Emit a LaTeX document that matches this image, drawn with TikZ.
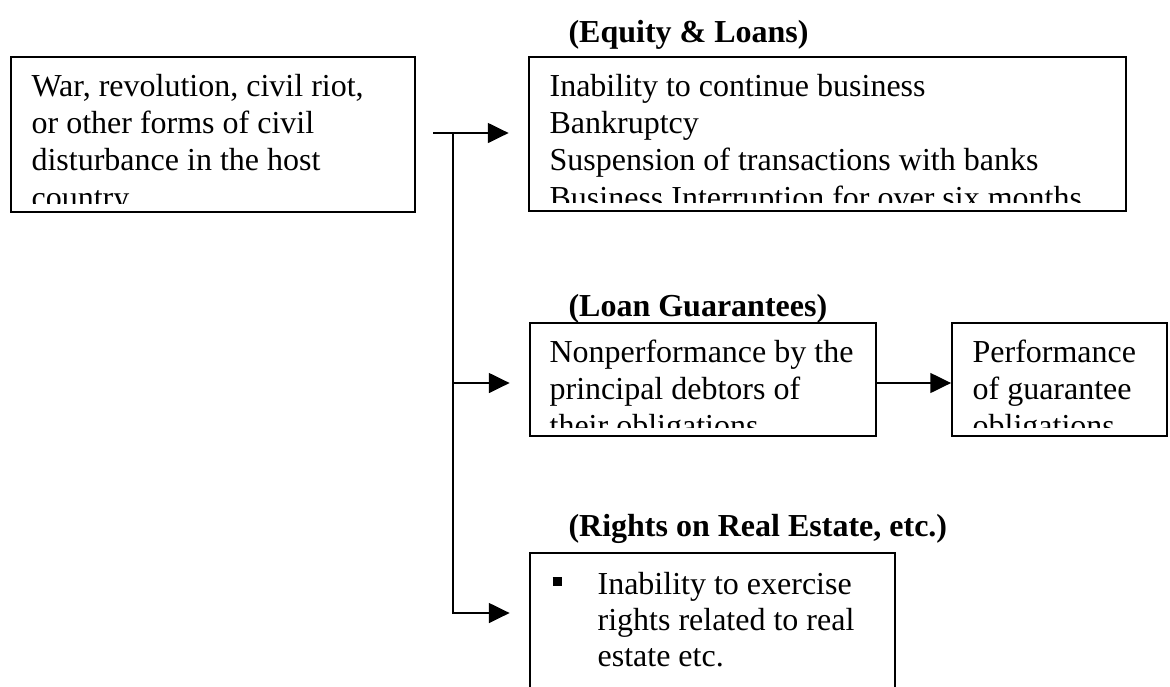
\documentclass[tikz,border=0pt]{standalone}
\usepackage{fontspec}
\setmainfont{Liberation Serif}
\usetikzlibrary{arrows.meta, fit}

\begin{document}
\begin{tikzpicture}[x=0.375pt, y=-0.375pt,
    box/.style={draw, line width=0.7pt, inner sep=0pt},
    txt/.style={anchor=north west, inner sep=0pt, align=left, font=\fontsize{12}{14}\selectfont},
    title/.style={anchor=base west, inner sep=0pt, font=\fontsize{12}{14}\selectfont\bfseries},
    conn/.style={line width=0.6pt, -{Triangle[length=7.8pt, width=7.5pt]}, shorten >=7.3pt}]

    \clip (0,0) rectangle (1170,686);

    % boxes
    \node[box, fit={(11,57) (415,212)}] (war) {};
    \node[box, fit={(529,57) (1126,211)}] (equity) {};
    \node[box, fit={(530,323) (876,436)}] (loan) {};
    \node[box, fit={(952,323) (1167,436)}] (perf) {};
    \node[box, fit={(530,553) (895,720)}] (rights) {};

    % headings
    \node[title] (eqtitle) at (568,42) {(Equity \& Loans)};
    \node[title] (loantitle) at (568,316) {(Loan Guarantees)};
    \node[title] (rightstitle) at (568,536) {(Rights on Real Estate, etc.)};

    % texts, cut off at the bottom of their boxes
    \begin{scope}
        \clip (war.north west) rectangle ([shift={(0,-9)}]war.south east);
        \node[txt] (wartext) at ([shift={(21,13)}]war.north west)
            {\rule{0pt}{10pt}War, revolution, civil riot,\\or other forms of civil\\disturbance in the host\\country};
    \end{scope}
    \begin{scope}
        \clip (equity.north west) rectangle ([shift={(0,-9)}]equity.south east);
        \node[txt] (eqtext) at ([shift={(21,13)}]equity.north west)
            {\rule{0pt}{10pt}Inability to continue business\\Bankruptcy\\Suspension of transactions with banks\\Business Interruption for over six months};
    \end{scope}
    \begin{scope}
        \clip (loan.north west) rectangle ([shift={(0,-9)}]loan.south east);
        \node[txt] (loantext) at ([shift={(20,13)}]loan.north west)
            {\rule{0pt}{10pt}Nonperformance by the\\principal debtors of\\their obligations};
    \end{scope}
    \begin{scope}
        \clip (perf.north west) rectangle ([shift={(0,-9)}]perf.south east);
        \node[txt] (perftext) at ([shift={(21,13)}]perf.north west)
            {\rule{0pt}{10pt}Performance\\of guarantee\\obligations};
    \end{scope}
    \node[anchor=base west, inner sep=0pt] (bullet) at ([shift={(23,34)}]rights.north west) {\rule{3.7pt}{3.4pt}};
    \node[txt, font=\fontsize{12}{13.6}\selectfont] (rightstext) at ([shift={(68,15)}]rights.north west)
        {\rule{0pt}{10pt}Inability to exercise\\rights related to real\\estate etc.};

    % connectors
    \coordinate (stub) at (433,133);
    \coordinate (split) at (453,133);
    \coordinate (midjoin) at (453,383);
    \coordinate (lowjoin) at (453,613);

    \draw[conn] (stub) -- (stub -| equity.west);
    \draw[conn] (split) -- (lowjoin) -- (lowjoin -| rights.west);
    \draw[conn] (midjoin) -- (midjoin -| loan.west);
    \draw[conn, shorten >=0pt] (loan.east |- midjoin) -- (perf.west |- midjoin);
\end{tikzpicture}
\end{document}
